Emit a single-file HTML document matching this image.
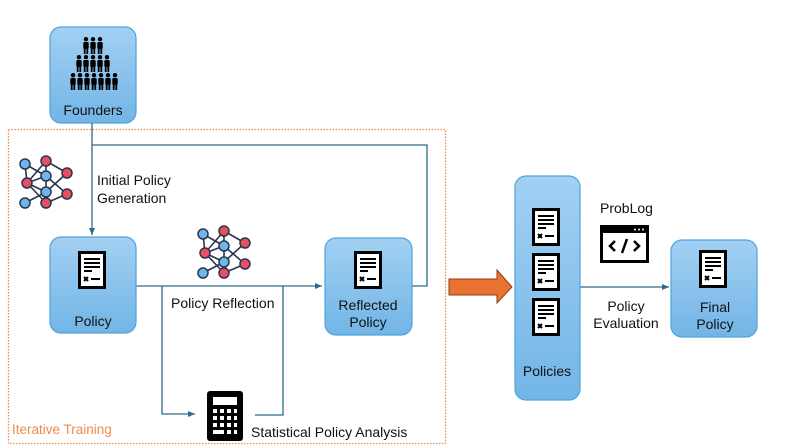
<!DOCTYPE html>
<html><head><meta charset="utf-8"><style>
body{margin:0;background:#fff}
svg{display:block;font-family:"Liberation Sans",sans-serif}
</style></head><body>
<svg width="793" height="446" viewBox="0 0 793 446" xmlns="http://www.w3.org/2000/svg">
<defs>
<linearGradient id="g" x1="0" y1="0" x2="0" y2="1"><stop offset="0" stop-color="#a3d0f3"/><stop offset="1" stop-color="#72b5e6"/></linearGradient>
<marker id="ar" markerWidth="8" markerHeight="8" refX="7" refY="4" orient="auto" markerUnits="userSpaceOnUse"><path d="M0,1 L7,4 L0,7 z" fill="#2d6a8c"/></marker>
<g id="doc">
<rect x="1.5" y="1.5" width="25" height="35" fill="#fff" stroke="#000" stroke-width="3"/>
<rect x="6" y="7" width="16" height="2" fill="#000"/><rect x="6" y="11" width="16" height="2" fill="#000"/><rect x="6" y="15" width="16" height="2" fill="#000"/><rect x="6" y="19" width="8" height="2" fill="#000"/>
<path d="M6,26 l4,4 M10,26 l-4,4" stroke="#000" stroke-width="2"/><rect x="13" y="27" width="9" height="2" fill="#000"/>
</g>
<g id="nn" stroke="#2a3550" stroke-width="1.6">
<path d="M8,8 L29,20 M8,8 L10,27 M10,27 L29,20 M10,27 L29,36 M10,27 L29,47 M8,47 L29,36 M29,5 L29,20 M29,5 L50,17 M29,20 L50,38 M29,36 L50,17 M29,36 L29,47 M29,47 L50,38 M29,5 L10,27 M29,20 L29,36"/>
<g stroke-width="1.5">
<circle cx="8" cy="8" r="5" fill="#6fb6ef"/><circle cx="10" cy="27" r="5" fill="#e8505f"/><circle cx="8" cy="47" r="5" fill="#6fb6ef"/>
<circle cx="29" cy="5" r="5" fill="#e8505f"/><circle cx="29" cy="20" r="5" fill="#6fb6ef"/><circle cx="29" cy="36" r="5" fill="#6fb6ef"/><circle cx="29" cy="47" r="5" fill="#e8505f"/>
<circle cx="50" cy="17" r="5" fill="#e8505f"/><circle cx="50" cy="38" r="5" fill="#e8505f"/>
</g>
</g>
<g id="person" fill="#000"><circle cx="3" cy="2.2" r="2.2"/><rect x="0.3" y="5" width="5.4" height="7" rx="1.2"/><rect x="0.8" y="11" width="1.8" height="6"/><rect x="3.4" y="11" width="1.8" height="6"/></g>
</defs>

<rect x="8.5" y="129.5" width="437" height="314" fill="none" stroke="#ef8a52" stroke-width="1.3" stroke-dasharray="1.5,1.5"/>
<text x="12" y="434" font-size="13.5" fill="#ef8a52">Iterative Training</text>

<!-- Founders -->
<rect x="50" y="27" width="86" height="96" rx="11" fill="url(#g)" stroke="#4ea4dc" stroke-width="1.2"/>
<g transform="translate(83,37)"><use href="#person"/><use href="#person" x="7"/><use href="#person" x="14"/></g>
<g transform="translate(76,55)"><use href="#person"/><use href="#person" x="7"/><use href="#person" x="14"/><use href="#person" x="21"/><use href="#person" x="28"/></g>
<g transform="translate(70,73)"><use href="#person"/><use href="#person" x="7"/><use href="#person" x="14"/><use href="#person" x="21"/><use href="#person" x="28"/><use href="#person" x="35"/><use href="#person" x="42"/></g>
<text x="93" y="115" font-size="14" text-anchor="middle" fill="#111">Founders</text>

<!-- connectors -->
<g fill="none" stroke="#2d6a8c" stroke-width="1.3">
<path d="M92,123 V235" marker-end="url(#ar)"/>
<path d="M92,145 H427 V286 H412"/>
<path d="M136,286 H322" marker-end="url(#ar)"/>
<path d="M162,286 V414 H195" marker-end="url(#ar)"/>
<path d="M255,415 H283 V286"/>
<path d="M580,287 H669" marker-end="url(#ar)"/>
</g>

<use href="#nn" x="17" y="156"/>
<use href="#nn" x="195" y="226"/>
<text x="97" y="185" font-size="14" fill="#111">Initial Policy</text>
<text x="97" y="203" font-size="14" fill="#111">Generation</text>

<!-- Policy -->
<rect x="50" y="237" width="86" height="96" rx="11" fill="url(#g)" stroke="#4ea4dc" stroke-width="1.2"/>
<use href="#doc" x="78" y="251"/>
<text x="93" y="326" font-size="14" text-anchor="middle" fill="#111">Policy</text>

<text x="171" y="308" font-size="14" fill="#111">Policy Reflection</text>

<!-- Reflected -->
<rect x="325" y="238" width="87" height="97" rx="11" fill="url(#g)" stroke="#4ea4dc" stroke-width="1.2"/>
<use href="#doc" x="354" y="251"/>
<text x="368" y="310" font-size="14" text-anchor="middle" fill="#111">Reflected</text>
<text x="368" y="327" font-size="14" text-anchor="middle" fill="#111">Policy</text>

<!-- calculator -->
<rect x="207" y="391" width="36" height="50" rx="3" fill="#000"/>
<rect x="213" y="397" width="24" height="8" fill="#fff"/>
<g fill="#fff">
<rect x="213" y="409" width="4" height="4"/><rect x="220" y="409" width="4" height="4"/><rect x="227" y="409" width="4" height="4"/><rect x="234" y="409" width="3" height="4"/>
<rect x="213" y="416" width="4" height="4"/><rect x="220" y="416" width="4" height="4"/><rect x="227" y="416" width="4" height="4"/><rect x="234" y="416" width="3" height="4"/>
<rect x="213" y="423" width="4" height="4"/><rect x="220" y="423" width="4" height="4"/><rect x="227" y="423" width="4" height="4"/><rect x="234" y="423" width="3" height="4"/>
<rect x="213" y="430" width="11" height="4"/><rect x="227" y="430" width="4" height="4"/><rect x="234" y="430" width="3" height="4"/>
</g>
<text x="251" y="437" font-size="14" fill="#111">Statistical Policy Analysis</text>

<!-- orange arrow -->
<path d="M449,279 H497 V270 L512,287 L497,303 V295 H449 Z" fill="#e97132" stroke="#8a3d12" stroke-width="1"/>

<!-- Policies -->
<rect x="515" y="176" width="65" height="224" rx="11" fill="url(#g)" stroke="#4ea4dc" stroke-width="1.2"/>
<use href="#doc" x="532" y="208"/>
<use href="#doc" x="532" y="253"/>
<use href="#doc" x="532" y="298"/>
<text x="547" y="376" font-size="14" text-anchor="middle" fill="#111">Policies</text>

<text x="600" y="213" font-size="14" fill="#111">ProbLog</text>
<rect x="601.5" y="226.5" width="46" height="35" fill="#fff" stroke="#000" stroke-width="3"/>
<rect x="601" y="226" width="47" height="7" fill="#000"/>
<g fill="#fff"><circle cx="635" cy="229.5" r="1"/><circle cx="639" cy="229.5" r="1"/><circle cx="643" cy="229.5" r="1"/></g>
<path d="M615,241 l-5,5 l5,5 M634,241 l5,5 l-5,5 M627,239 l-5,14" fill="none" stroke="#000" stroke-width="2.5"/>

<text x="626" y="311" font-size="14" text-anchor="middle" fill="#111">Policy</text>
<text x="626" y="328" font-size="14" text-anchor="middle" fill="#111">Evaluation</text>

<!-- Final -->
<rect x="671" y="240" width="86" height="97" rx="11" fill="url(#g)" stroke="#4ea4dc" stroke-width="1.2"/>
<use href="#doc" x="699" y="250"/>
<text x="715" y="312" font-size="14" text-anchor="middle" fill="#111">Final</text>
<text x="715" y="329" font-size="14" text-anchor="middle" fill="#111">Policy</text>
</svg>
</body></html>
